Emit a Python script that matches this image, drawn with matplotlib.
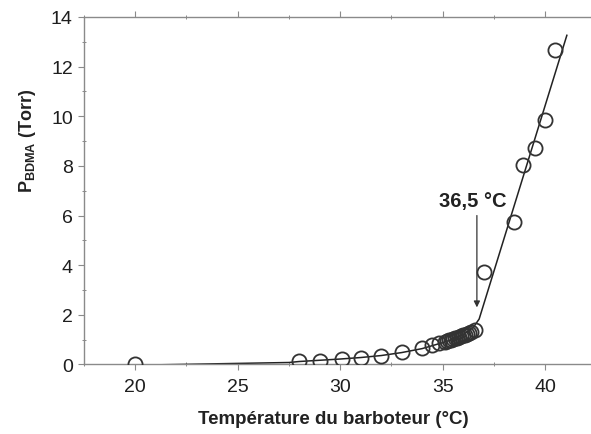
import numpy as np
import matplotlib
matplotlib.use('Agg')
import matplotlib.pyplot as plt
from matplotlib.ticker import MultipleLocator

plt.rcParams['font.family'] = ['Liberation Sans', 'DejaVu Sans']
plt.rcParams['mathtext.default'] = 'regular'

# measured points (bubbler temperature in C, pressure in Torr)
temp = [20, 28, 29, 30.1, 31, 32, 33, 34, 34.5, 34.8,
        35.1, 35.2, 35.3, 35.4, 35.5, 35.6, 35.7, 35.8, 35.9, 36.0,
        36.1, 36.2, 36.3, 36.4, 36.6,
        37.0, 38.5, 38.9, 39.5, 40.0, 40.5]
press = [0.03, 0.13, 0.16, 0.22, 0.26, 0.33, 0.52, 0.68, 0.78, 0.85,
         0.92, 0.95, 0.98, 1.0, 1.03, 1.05, 1.08, 1.11, 1.14, 1.17,
         1.2, 1.23, 1.27, 1.3, 1.4,
         3.74, 5.75, 8.02, 8.74, 9.86, 12.65]

# fitted curve
fit_temp = [20, 27.5, 28, 29, 30, 31, 32, 33, 34, 35, 35.5, 36, 36.5, 36.78, 41.06]
fit_press = [-0.03, 0.08, 0.12, 0.17, 0.22, 0.28, 0.36, 0.48, 0.64, 0.88, 1.02, 1.2, 1.5, 1.83, 13.26]

fig = plt.figure(figsize=(5.91, 4.35), dpi=100)
ax = fig.add_axes([0.1421, 0.1598, 0.867, 0.799])

ax.plot(fit_temp, fit_press, color='#222222', lw=1.1, zorder=2)
ax.plot(temp, press, 'o', mfc='none', mec='#333333', mew=1.3, ms=10.2, zorder=3)

ax.annotate('', xy=(36.67, 2.3), xytext=(36.67, 6.0),
            arrowprops=dict(arrowstyle='-|>', color='#333333', lw=0.9,
                            mutation_scale=9, shrinkA=0, shrinkB=0))
ax.text(36.45, 6.6, '36,5 °C', ha='center', va='center', fontsize=14.5,
        fontweight='bold', color='#222222')

ax.set_xlim(17.5, 42.5)
ax.set_ylim(0, 14)
ax.xaxis.set_major_locator(MultipleLocator(5))
ax.xaxis.set_minor_locator(MultipleLocator(2.5))
ax.yaxis.set_major_locator(MultipleLocator(2))
ax.yaxis.set_minor_locator(MultipleLocator(1))

for s in ax.spines.values():
    s.set_color('#8a8a8a')
    s.set_linewidth(1.0)
ax.spines['right'].set_visible(False)

ax.tick_params(which='major', direction='out', length=4.5, width=0.8,
               color='#8a8a8a', labelsize=14, labelcolor='#1e1e1e', pad=3.5)
ax.tick_params(which='minor', direction='inout', length=3, width=0.7, color='#8a8a8a')
ax.tick_params(axis='x', which='both', top=True)
ax.tick_params(axis='x', which='major', pad=5)

fig.text(333 / 591, 1 - 420 / 435, 'Température du barboteur (°C)', ha='center',
         va='center', fontsize=13.5, fontweight='bold', color='#222222')
fig.text(27 / 591, 1 - 141 / 435, r'P$_{\mathregular{BDMA}}$ (Torr)', ha='center',
         va='center', rotation=90, fontsize=13, fontweight='bold', color='#222222')

fig.savefig('out.png', dpi=100)
